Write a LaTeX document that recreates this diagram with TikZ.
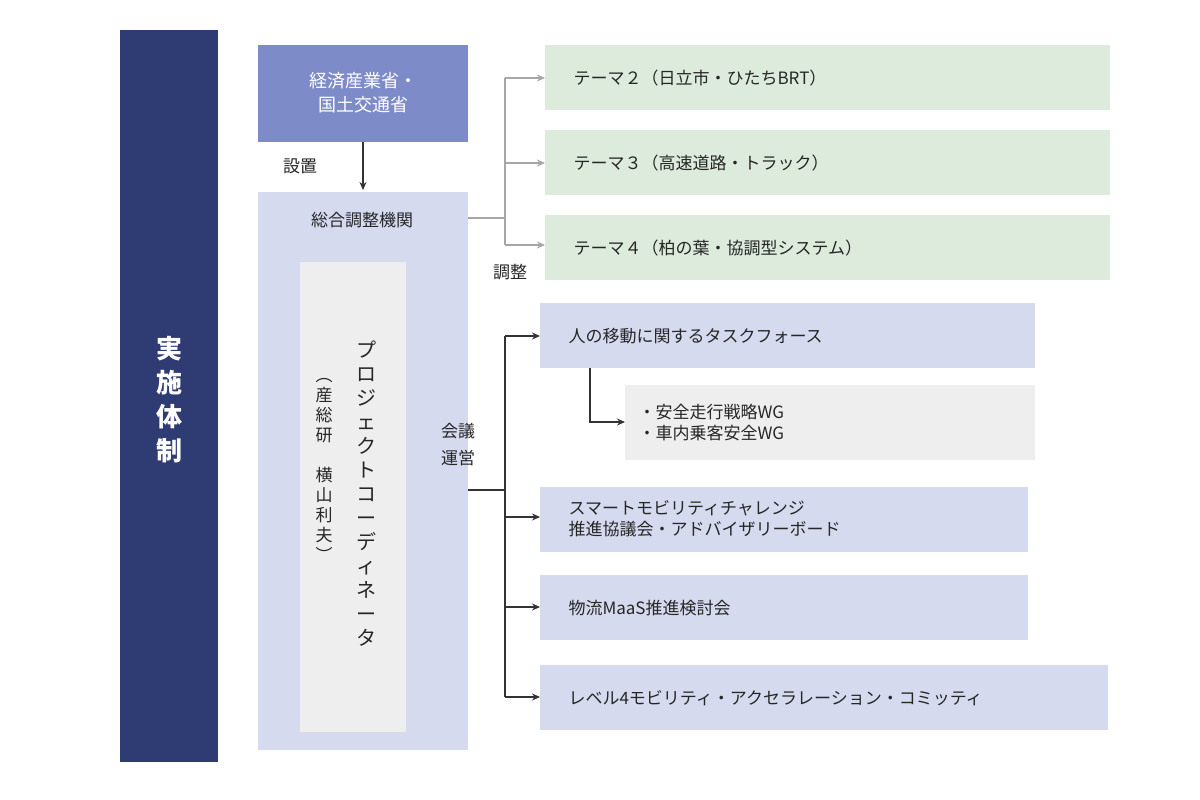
\documentclass[tikz,border=0pt]{standalone}
\usepackage{fontspec}
\setmainfont{Noto Sans CJK JP}
\usetikzlibrary{arrows.meta}
\definecolor{navy}{HTML}{2F3B73}
\definecolor{midblue}{HTML}{7E8BC9}
\definecolor{lightblue}{HTML}{D6DAEF}
\definecolor{lgray}{HTML}{EEEEEE}
\definecolor{lgreen}{HTML}{DDEBDC}
\begin{document}
\begin{tikzpicture}[x=1pt,y=-1pt,
  txt/.style={font=\fontsize{17}{21}\selectfont,text=black!85},
  garrow/.style={draw=gray!70,line width=1.2pt,-{Stealth[length=8pt,width=7pt]}},
  darrow/.style={draw=black!80,line width=1.2pt,-{Stealth[length=8pt,width=7pt]}}]
\useasboundingbox (0,0) rectangle (1200,800);
\fill[white] (0,0) rectangle (1200,800);
% left bar
\fill[navy] (120,30) rectangle (218,762);
\node[text=white,font=\bfseries\fontsize{26}{34}\selectfont,align=center] (jisshi) at (169,400) {実\\施\\体\\制};
% ministries
\fill[midblue] (258,45) rectangle (468,142);
\node[text=white,font=\fontsize{18}{24}\selectfont,align=center] (min) at (363,93) {経済産業省・\\国土交通省};
% big box
\fill[lightblue] (258,192) rectangle (468,750);
\coordinate (bigtop) at (363,190);
\node[txt] (sogo) at (362,220) {総合調整機関};
\draw[darrow] (363,142) -- (bigtop);
\node[txt] (setchi) at (300,166) {設置};
% inner box
\fill[lgray] (300,262) rectangle (406,732);
\node[txt,align=center,font=\fontsize{20}{24}\selectfont] (pc) at (366,494) {プ\\ロ\\ジ\\ェ\\ク\\ト\\コ\\ー\\デ\\ィ\\ネ\\ー\\タ};
\node[txt,align=center,font=\fontsize{17}{20}\selectfont] (aist) at (324,470) {︵\\産\\総\\研\\\\横\\山\\利\\夫\\︶};
% green boxes
\foreach \y/\t/\n in {45/テーマ２（日立市・ひたちBRT）/g1,130/テーマ３（高速道路・トラック）/g2,215/テーマ４（柏の葉・協調型システム）/g3}{
  \fill[lgreen] (545,\y) rectangle (1110,\y+65);
  \node[txt,anchor=west] (\n) at (570,\y+33) {\t};
}
\coordinate (gj) at (505,218);
\draw[draw=gray!70,line width=1.2pt] (468,218) -- (gj);
\draw[draw=gray!70,line width=1.2pt] (505,78) -- (505,245);
\draw[garrow] (505,78) -- (545,78);
\draw[garrow] (505,163) -- (545,163);
\draw[garrow] (505,245) -- (545,245);
\node[txt] (chosei) at (510,272) {調整};
% blue boxes
\fill[lightblue] (540,303) rectangle (1035,368);
\node[txt,anchor=west] (b1) at (565,336) {人の移動に関するタスクフォース};
\fill[lgray] (625,385) rectangle (1035,460);
\node[txt,anchor=west,align=left] (wg) at (635,423) {・安全走行戦略WG\\・車内乗客安全WG};
\fill[lightblue] (540,487) rectangle (1028,552);
\node[txt,anchor=west,align=left] (b2) at (565,519) {スマートモビリティチャレンジ\\推進協議会・アドバイザリーボード};
\fill[lightblue] (540,575) rectangle (1028,640);
\node[txt,anchor=west] (b3) at (565,608) {物流MaaS推進検討会};
\fill[lightblue] (540,665) rectangle (1108,730);
\node[txt,anchor=west] (b4) at (565,698) {レベル4モビリティ・アクセラレーション・コミッティ};
\node[txt,align=center] (kaigi) at (458,445) {会議\\[6pt]運営};
\draw[draw=black!80,line width=1.2pt] (468,490) -- (505,490);
\draw[draw=black!80,line width=1.2pt] (505,336) -- (505,697);
\draw[darrow] (505,336) -- (540,336);
\draw[darrow] (505,517) -- (540,517);
\draw[darrow] (505,607) -- (540,607);
\draw[darrow] (505,697) -- (540,697);
\draw[darrow] (590,368) -- (590,422) -- (625,422);
\end{tikzpicture}
\end{document}
